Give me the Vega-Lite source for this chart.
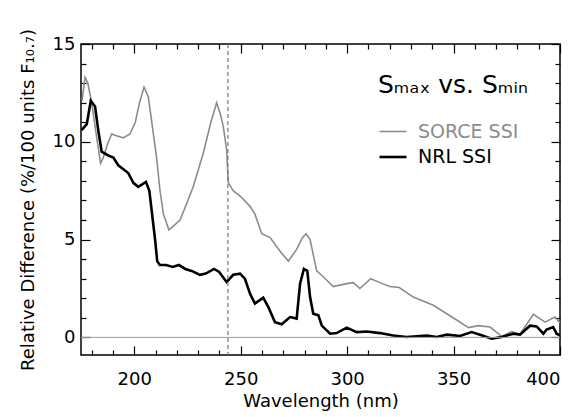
{
  "$schema": "https://vega.github.io/schema/vega-lite/v6.json",
  "width": 479,
  "height": 311,
  "autosize": "none",
  "padding": {"left": 81, "top": 44, "right": 28, "bottom": 62},
  "background": "white",
  "config": {
    "view": {"stroke": "black", "strokeWidth": 1.5},
    "font": "DejaVu Sans",
    "axis": {
      "domain": false,
      "grid": false,
      "labelFont": "DejaVu Sans",
      "labelFontSize": 18,
      "labelColor": "black",
      "titleFont": "DejaVu Sans",
      "titleFontSize": 18,
      "titleFontWeight": "normal",
      "titleColor": "black",
      "tickColor": "black",
      "tickWidth": 1.2
    }
  },
  "datasets": {
    "curves": [
      {"series": "SORCE SSI", "wl": 175.5, "v": 12.1},
      {"series": "SORCE SSI", "wl": 176.9, "v": 13.3},
      {"series": "SORCE SSI", "wl": 178.2, "v": 13.0},
      {"series": "SORCE SSI", "wl": 180.0, "v": 12.0},
      {"series": "SORCE SSI", "wl": 182.0, "v": 10.5},
      {"series": "SORCE SSI", "wl": 184.2, "v": 8.9},
      {"series": "SORCE SSI", "wl": 185.5, "v": 9.2},
      {"series": "SORCE SSI", "wl": 187.5, "v": 9.9},
      {"series": "SORCE SSI", "wl": 189.4, "v": 10.4},
      {"series": "SORCE SSI", "wl": 192.0, "v": 10.3},
      {"series": "SORCE SSI", "wl": 194.9, "v": 10.2},
      {"series": "SORCE SSI", "wl": 198.0, "v": 10.4},
      {"series": "SORCE SSI", "wl": 200.5, "v": 11.0},
      {"series": "SORCE SSI", "wl": 202.5, "v": 12.0},
      {"series": "SORCE SSI", "wl": 204.6, "v": 12.8},
      {"series": "SORCE SSI", "wl": 206.6, "v": 12.3},
      {"series": "SORCE SSI", "wl": 208.5, "v": 10.8},
      {"series": "SORCE SSI", "wl": 210.6, "v": 9.1},
      {"series": "SORCE SSI", "wl": 212.0, "v": 7.6},
      {"series": "SORCE SSI", "wl": 213.7, "v": 6.3},
      {"series": "SORCE SSI", "wl": 216.3, "v": 5.5},
      {"series": "SORCE SSI", "wl": 218.5, "v": 5.7},
      {"series": "SORCE SSI", "wl": 221.5, "v": 6.0},
      {"series": "SORCE SSI", "wl": 224.5, "v": 6.8},
      {"series": "SORCE SSI", "wl": 227.7, "v": 7.7},
      {"series": "SORCE SSI", "wl": 232.4, "v": 9.4},
      {"series": "SORCE SSI", "wl": 236.0, "v": 11.0},
      {"series": "SORCE SSI", "wl": 238.7, "v": 12.0},
      {"series": "SORCE SSI", "wl": 240.5, "v": 11.4},
      {"series": "SORCE SSI", "wl": 241.8, "v": 10.8},
      {"series": "SORCE SSI", "wl": 243.4, "v": 9.6},
      {"series": "SORCE SSI", "wl": 244.2, "v": 7.9},
      {"series": "SORCE SSI", "wl": 246.5, "v": 7.5},
      {"series": "SORCE SSI", "wl": 250.0, "v": 7.2},
      {"series": "SORCE SSI", "wl": 254.4, "v": 6.7},
      {"series": "SORCE SSI", "wl": 256.7, "v": 6.3},
      {"series": "SORCE SSI", "wl": 259.9, "v": 5.3},
      {"series": "SORCE SSI", "wl": 263.8, "v": 5.1},
      {"series": "SORCE SSI", "wl": 268.5, "v": 4.4},
      {"series": "SORCE SSI", "wl": 272.4, "v": 3.9},
      {"series": "SORCE SSI", "wl": 276.3, "v": 4.5},
      {"series": "SORCE SSI", "wl": 279.0, "v": 5.1},
      {"series": "SORCE SSI", "wl": 280.7, "v": 5.3},
      {"series": "SORCE SSI", "wl": 282.6, "v": 5.0},
      {"series": "SORCE SSI", "wl": 285.7, "v": 3.4},
      {"series": "SORCE SSI", "wl": 288.8, "v": 3.1},
      {"series": "SORCE SSI", "wl": 293.5, "v": 2.6},
      {"series": "SORCE SSI", "wl": 299.8, "v": 2.75},
      {"series": "SORCE SSI", "wl": 302.9, "v": 2.8},
      {"series": "SORCE SSI", "wl": 306.0, "v": 2.5},
      {"series": "SORCE SSI", "wl": 311.1, "v": 3.0},
      {"series": "SORCE SSI", "wl": 315.4, "v": 2.8},
      {"series": "SORCE SSI", "wl": 320.0, "v": 2.6},
      {"series": "SORCE SSI", "wl": 324.5, "v": 2.55},
      {"series": "SORCE SSI", "wl": 331.1, "v": 2.06},
      {"series": "SORCE SSI", "wl": 340.5, "v": 1.64},
      {"series": "SORCE SSI", "wl": 346.8, "v": 1.21},
      {"series": "SORCE SSI", "wl": 352.0, "v": 0.85},
      {"series": "SORCE SSI", "wl": 357.0, "v": 0.5},
      {"series": "SORCE SSI", "wl": 361.6, "v": 0.6},
      {"series": "SORCE SSI", "wl": 367.1, "v": 0.53},
      {"series": "SORCE SSI", "wl": 372.6, "v": 0.05},
      {"series": "SORCE SSI", "wl": 377.3, "v": 0.3},
      {"series": "SORCE SSI", "wl": 381.2, "v": 0.15},
      {"series": "SORCE SSI", "wl": 384.5, "v": 0.7},
      {"series": "SORCE SSI", "wl": 387.5, "v": 1.18},
      {"series": "SORCE SSI", "wl": 390.0, "v": 1.0},
      {"series": "SORCE SSI", "wl": 393.0, "v": 0.78},
      {"series": "SORCE SSI", "wl": 397.6, "v": 1.04},
      {"series": "SORCE SSI", "wl": 400.0, "v": 0.73},
      {"series": "NRL SSI", "wl": 175.3, "v": 10.6},
      {"series": "NRL SSI", "wl": 177.7, "v": 10.9},
      {"series": "NRL SSI", "wl": 179.6, "v": 12.1},
      {"series": "NRL SSI", "wl": 181.6, "v": 11.8},
      {"series": "NRL SSI", "wl": 183.1, "v": 10.6},
      {"series": "NRL SSI", "wl": 184.7, "v": 9.5},
      {"series": "NRL SSI", "wl": 187.8, "v": 9.3},
      {"series": "NRL SSI", "wl": 190.2, "v": 9.2},
      {"series": "NRL SSI", "wl": 192.5, "v": 8.8},
      {"series": "NRL SSI", "wl": 194.9, "v": 8.6},
      {"series": "NRL SSI", "wl": 197.2, "v": 8.4},
      {"series": "NRL SSI", "wl": 199.6, "v": 7.9},
      {"series": "NRL SSI", "wl": 201.9, "v": 7.7},
      {"series": "NRL SSI", "wl": 205.5, "v": 7.95},
      {"series": "NRL SSI", "wl": 207.1, "v": 7.5},
      {"series": "NRL SSI", "wl": 208.5, "v": 6.2},
      {"series": "NRL SSI", "wl": 209.8, "v": 5.0},
      {"series": "NRL SSI", "wl": 210.8, "v": 3.9},
      {"series": "NRL SSI", "wl": 212.0, "v": 3.7},
      {"series": "NRL SSI", "wl": 215.0, "v": 3.7},
      {"series": "NRL SSI", "wl": 218.0, "v": 3.6},
      {"series": "NRL SSI", "wl": 221.0, "v": 3.7},
      {"series": "NRL SSI", "wl": 224.0, "v": 3.5},
      {"series": "NRL SSI", "wl": 227.0, "v": 3.4},
      {"series": "NRL SSI", "wl": 230.9, "v": 3.2},
      {"series": "NRL SSI", "wl": 233.6, "v": 3.26},
      {"series": "NRL SSI", "wl": 237.5, "v": 3.5},
      {"series": "NRL SSI", "wl": 239.9, "v": 3.35},
      {"series": "NRL SSI", "wl": 243.4, "v": 2.83},
      {"series": "NRL SSI", "wl": 246.5, "v": 3.2},
      {"series": "NRL SSI", "wl": 249.7, "v": 3.26},
      {"series": "NRL SSI", "wl": 252.0, "v": 3.0},
      {"series": "NRL SSI", "wl": 254.5, "v": 2.2},
      {"series": "NRL SSI", "wl": 256.7, "v": 1.73},
      {"series": "NRL SSI", "wl": 260.6, "v": 2.03},
      {"series": "NRL SSI", "wl": 263.0, "v": 1.55},
      {"series": "NRL SSI", "wl": 266.1, "v": 0.78},
      {"series": "NRL SSI", "wl": 269.3, "v": 0.67},
      {"series": "NRL SSI", "wl": 273.2, "v": 1.04},
      {"series": "NRL SSI", "wl": 276.3, "v": 0.96},
      {"series": "NRL SSI", "wl": 277.9, "v": 2.75},
      {"series": "NRL SSI", "wl": 279.7, "v": 3.5},
      {"series": "NRL SSI", "wl": 281.3, "v": 3.4},
      {"series": "NRL SSI", "wl": 282.6, "v": 2.06},
      {"series": "NRL SSI", "wl": 284.1, "v": 1.21},
      {"series": "NRL SSI", "wl": 286.5, "v": 1.13},
      {"series": "NRL SSI", "wl": 288.1, "v": 0.6},
      {"series": "NRL SSI", "wl": 292.0, "v": 0.19},
      {"series": "NRL SSI", "wl": 295.1, "v": 0.22},
      {"series": "NRL SSI", "wl": 299.8, "v": 0.5},
      {"series": "NRL SSI", "wl": 304.5, "v": 0.27},
      {"series": "NRL SSI", "wl": 309.2, "v": 0.3},
      {"series": "NRL SSI", "wl": 315.4, "v": 0.22},
      {"series": "NRL SSI", "wl": 321.7, "v": 0.1},
      {"series": "NRL SSI", "wl": 327.9, "v": 0.02},
      {"series": "NRL SSI", "wl": 337.4, "v": 0.1},
      {"series": "NRL SSI", "wl": 342.1, "v": 0.02},
      {"series": "NRL SSI", "wl": 346.8, "v": 0.14},
      {"series": "NRL SSI", "wl": 353.0, "v": 0.07},
      {"series": "NRL SSI", "wl": 358.5, "v": 0.27},
      {"series": "NRL SSI", "wl": 362.4, "v": 0.14},
      {"series": "NRL SSI", "wl": 367.9, "v": -0.07},
      {"series": "NRL SSI", "wl": 372.6, "v": 0.02},
      {"series": "NRL SSI", "wl": 378.1, "v": 0.19},
      {"series": "NRL SSI", "wl": 381.2, "v": 0.14},
      {"series": "NRL SSI", "wl": 385.9, "v": 0.6},
      {"series": "NRL SSI", "wl": 389.0, "v": 0.56},
      {"series": "NRL SSI", "wl": 392.2, "v": 0.19},
      {"series": "NRL SSI", "wl": 393.7, "v": 0.4},
      {"series": "NRL SSI", "wl": 396.8, "v": 0.53},
      {"series": "NRL SSI", "wl": 398.4, "v": 0.19},
      {"series": "NRL SSI", "wl": 400.0, "v": 0.1}
    ]
  },
  "layer": [
    {
      "data": {"name": "curves"},
      "mark": {"type": "line", "interpolate": "linear"},
      "encoding": {
        "x": {
          "field": "wl", "type": "quantitative",
          "scale": {"domain": [175, 400], "nice": false, "zero": false},
          "axis": {
            "orient": "bottom",
            "title": "Wavelength (nm)",
            "values": [200, 250, 300, 350, 400],
            "tickSize": -9,
            "labelPadding": 24,
            "titlePadding": 4
          }
        },
        "y": {
          "field": "v", "type": "quantitative",
          "scale": {"domain": [-0.9, 15], "nice": false, "zero": false},
          "axis": {
            "orient": "left",
            "title": "Relative Difference (%/100 units F₁₀.₇)",
            "values": [0, 5, 10, 15],
            "tickSize": -9,
            "labelPadding": 15,
            "titlePadding": 15
          }
        },
        "color": {
          "field": "series", "type": "nominal",
          "scale": {"domain": ["SORCE SSI", "NRL SSI"], "range": ["#8c8c8c", "#000000"]},
          "legend": {
            "orient": "none",
            "legendX": 297,
            "legendY": 29,
            "title": "Sₘₐₓ vs. Sₘᵢₙ",
            "titleFont": "DejaVu Sans",
            "titleFontSize": 25,
            "titleFontWeight": "normal",
            "titleColor": "black",
            "titlePadding": 19,
            "labelFont": "DejaVu Sans",
            "labelFontSize": 19,
            "labelOffset": 10,
            "symbolType": "stroke",
            "symbolSize": 729,
            "symbolStrokeWidth": 2,
            "rowPadding": 0,
            "encode": {"labels": {"update": {"fill": {"signal": "datum.value === 'SORCE SSI' ? '#8c8c8c' : '#000000'"}}}}
          }
        },
        "strokeWidth": {
          "field": "series", "type": "nominal",
          "scale": {"domain": ["SORCE SSI", "NRL SSI"], "range": [1.6, 2.6]},
          "legend": null
        }
      }
    },
    {
      "data": {"values": [{}]},
      "mark": {"type": "rule", "color": "#9a9a9a", "strokeWidth": 1},
      "encoding": {
        "y": {
          "datum": 0, "type": "quantitative",
          "axis": {"orient": "right", "title": null, "labels": false, "values": [0, 5, 10, 15], "tickSize": -9}
        }
      }
    },
    {
      "data": {"values": [{}]},
      "mark": {"type": "rule", "color": "#7a7a7a", "strokeDash": [4, 3], "strokeWidth": 1.2},
      "encoding": {
        "x": {
          "datum": 244, "type": "quantitative",
          "axis": {"orient": "top", "title": null, "labels": false, "values": [200, 250, 300, 350, 400], "tickSize": -9}
        }
      }
    },
    {
      "data": {"values": [{}]},
      "mark": {"type": "point", "opacity": 0},
      "encoding": {
        "x": {
          "datum": 300, "type": "quantitative",
          "axis": {"orient": "bottom", "title": null, "labels": false, "values": [180,190,210,220,230,240,260,270,280,290,310,320,330,340,360,370,380,390], "tickSize": -5}
        },
        "y": {
          "datum": 5, "type": "quantitative",
          "axis": {"orient": "left", "title": null, "labels": false, "values": [1,2,3,4,6,7,8,9,11,12,13,14], "tickSize": -5}
        }
      }
    },
    {
      "data": {"values": [{}]},
      "mark": {"type": "point", "opacity": 0},
      "encoding": {
        "x": {
          "datum": 300, "type": "quantitative",
          "axis": {"orient": "top", "title": null, "labels": false, "values": [180,190,210,220,230,240,260,270,280,290,310,320,330,340,360,370,380,390], "tickSize": -5}
        },
        "y": {
          "datum": 5, "type": "quantitative",
          "axis": {"orient": "right", "title": null, "labels": false, "values": [1,2,3,4,6,7,8,9,11,12,13,14], "tickSize": -5}
        }
      }
    }
  ],
  "resolve": {"axis": {"x": "independent", "y": "independent"}}
}
